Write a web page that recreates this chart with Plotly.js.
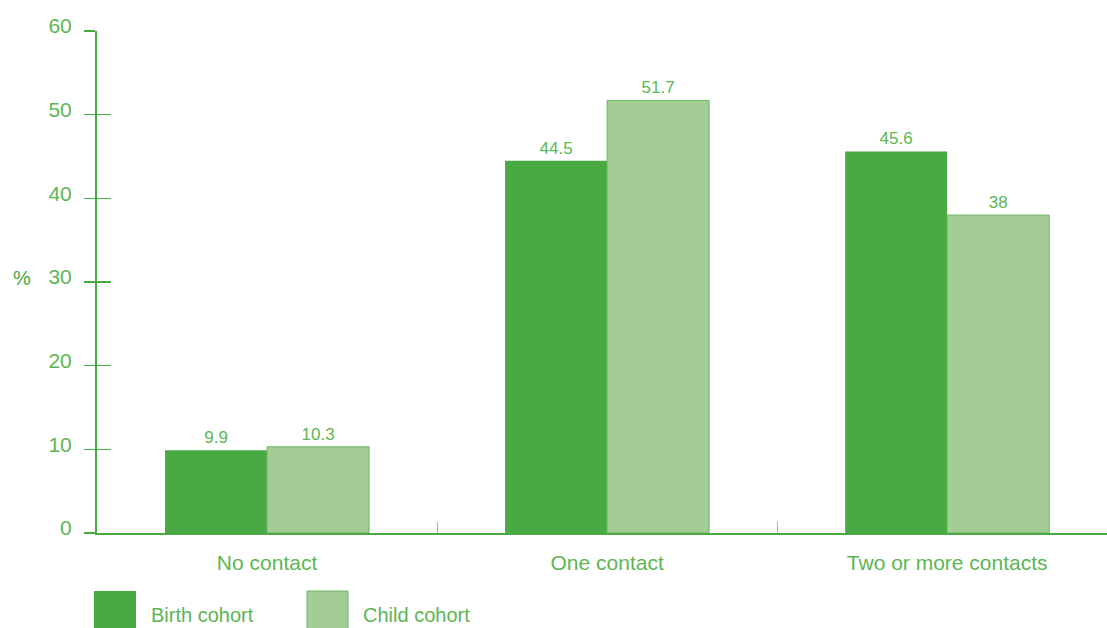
<!DOCTYPE html>
<html>
<head>
<meta charset="utf-8">
<script src="https://cdn.plot.ly/plotly-3.0.1.min.js"></script>
<style>html,body{margin:0;padding:0;background:#fff;overflow:hidden}#chart{width:1107px;height:628px}</style>
</head>
<body>
<div id="chart"></div>
<script>
const categories = ["No contact", "One contact", "Two or more contacts"];
const seriesNames = ["Birth cohort", "Child cohort"];
const birthCohort = [9.9, 44.5, 45.6];
const childCohort = [10.3, 51.7, 38];
const yTicks = [0, 10, 20, 30, 40, 50, 60];

const W = 1107, H = 628;
const M = {l: 97, r: 0, t: 31, b: 95};
const PW = W - M.l - M.r, PH = H - M.t - M.b;
const px = x => (x - M.l) / PW;
const py = y => (H - M.b - y) / PH;

const textGreen = "#5cb653";
const darkGreen = "#49a942";
const lightGreen = "#a3cd95";
const lightEdge = "#6db764";
const font = "Liberation Sans, Arial, sans-serif";

const traces = [
  {type: "bar", name: seriesNames[0], x: categories, y: birthCohort,
   marker: {color: darkGreen, line: {width: 0}},
   text: birthCohort.map(String), textposition: "outside", cliponaxis: false,
   textfont: {family: font, size: 17, color: textGreen}, hoverinfo: "x+y"},
  {type: "bar", name: seriesNames[1], x: categories, y: childCohort,
   marker: {color: lightGreen, line: {color: lightEdge, width: 1}},
   text: childCohort.map(String), textposition: "outside", cliponaxis: false,
   textfont: {family: font, size: 17, color: textGreen}, hoverinfo: "x+y"},
  {type: "scatter", x: [], y: [], yaxis: "y2", showlegend: false, hoverinfo: "skip"}
];

const layout = {
  width: W, height: H,
  margin: M,
  paper_bgcolor: "#fff", plot_bgcolor: "#fff",
  showlegend: false,
  barmode: "group", bargap: 0.4, bargroupgap: 0,
  font: {family: font, color: textGreen, size: 21},
  xaxis: {
    type: "category", range: [-0.5, 2.47],
    showline: true, linecolor: darkGreen, linewidth: 2,
    ticks: "inside", tickson: "boundaries", ticklen: 11, tickwidth: 1, tickcolor: "#8fcb84",
    tickfont: {family: font, size: 21, color: textGreen},
    ticklabelstandoff: 10,
    showgrid: false, zeroline: false, fixedrange: true
  },
  yaxis: {
    range: [0, 60], tickvals: yTicks, ticktext: yTicks.map(String),
    showline: true, linecolor: darkGreen, linewidth: 2,
    ticks: "outside", ticklen: 11, tickwidth: 1.5, tickcolor: darkGreen,
    tickfont: {family: font, size: 21, color: textGreen},
    ticklabelstandoff: 8, ticklabelshift: -5,
    showgrid: false, zeroline: false, fixedrange: true
  },
  yaxis2: {
    overlaying: "y", anchor: "x", side: "left",
    range: [0, 60], tickvals: yTicks, showticklabels: false,
    ticks: "inside", ticklen: 14, tickwidth: 1.5, tickcolor: darkGreen,
    showline: false, showgrid: false, zeroline: false, fixedrange: true
  },
  shapes: [
    {type: "rect", xref: "paper", yref: "paper", x0: px(94), x1: px(136), y0: py(591), y1: py(640),
     fillcolor: darkGreen, line: {width: 0}},
    {type: "rect", xref: "paper", yref: "paper", x0: px(307), x1: px(348), y0: py(591), y1: py(640),
     fillcolor: lightGreen, line: {color: lightEdge, width: 1}}
  ],
  annotations: [
    {text: "%", xref: "paper", yref: "paper", x: px(22), y: py(278), xanchor: "center", yanchor: "middle",
     showarrow: false, font: {family: font, size: 20, color: darkGreen}},
    {text: seriesNames[0], xref: "paper", yref: "paper", x: px(150), y: py(615), xanchor: "left", yanchor: "middle",
     showarrow: false, borderpad: 0, font: {family: font, size: 20, color: textGreen}},
    {text: seriesNames[1], xref: "paper", yref: "paper", x: px(362), y: py(615), xanchor: "left", yanchor: "middle",
     showarrow: false, borderpad: 0, font: {family: font, size: 20, color: textGreen}}
  ]
};

Plotly.newPlot("chart", traces, layout, {displayModeBar: false, staticPlot: true});
</script>
</body>
</html>
